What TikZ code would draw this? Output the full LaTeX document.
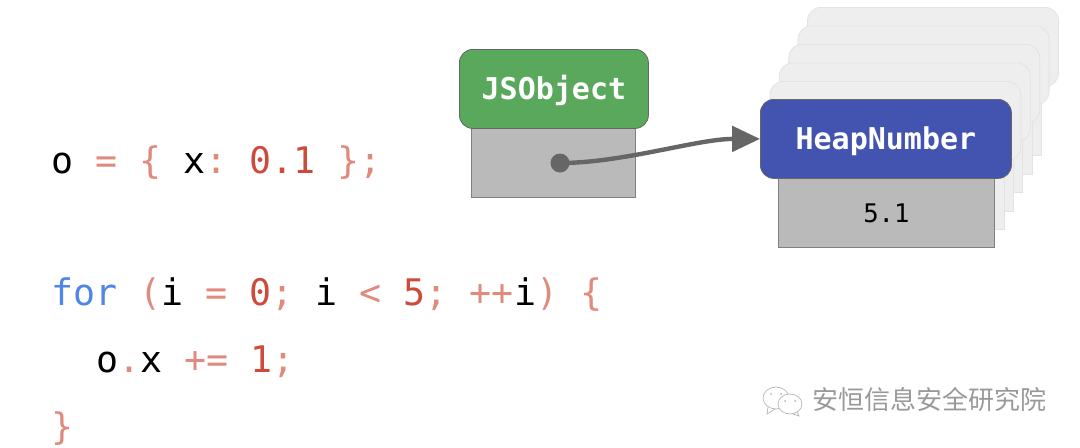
\documentclass[tikz,border=0pt]{standalone}
\usepackage{fontspec}
\setmonofont{DejaVu Sans Mono}
\newfontfamily\cjk{Noto Sans CJK SC}
\usetikzlibrary{arrows.meta}
\definecolor{kwblue}{HTML}{5086E8}
\definecolor{numred}{HTML}{CE4B3C}
\definecolor{opred}{HTML}{E08A7E}
\definecolor{bodygrey}{HTML}{BABABA}
\definecolor{ptrgrey}{HTML}{666666}
\definecolor{jsgreen}{HTML}{59A85C}
\definecolor{heapblue}{HTML}{4254B0}
\definecolor{cardfill}{HTML}{EEEEEE}
\definecolor{cardline}{HTML}{E3E3E3}
\definecolor{markgrey}{HTML}{B4B4B4}
\def\px{0.75pt}
\newcommand{\num}[1]{\textcolor{numred}{#1}}
\newcommand{\op}[1]{\textcolor{opred}{#1}}
\tikzset{
  codeline/.style = {anchor = base west, inner sep = 0pt, text = black, font = \ttfamily\fontsize{27.45pt}{30pt}\selectfont},
  header/.style = {anchor = north west, draw = ptrgrey, line width = 0.6pt, rounded corners = 10pt, inner sep = 0pt, text = white, text height = 16pt, text depth = 0pt, font = \ttfamily\bfseries\fontsize{22.5pt}{24pt}\selectfont},
  bodybox/.style = {anchor = north west, fill = bodygrey, draw = gray, line width = 0.6pt, inner sep = 0pt, font = \ttfamily\fontsize{19.2pt}{22pt}\selectfont},
  card/.style = {anchor = north west, fill = cardfill, draw = cardline, line width = 0.6pt, inner sep = 0pt},
}
\begin{document}
\begin{tikzpicture}[x = 0.75pt, y = -0.75pt]
\useasboundingbox (0, 0) rectangle (1080, 447);
% code
\node[codeline] (lineObj) at (51, 173) {o \op{= \{} x\op{:} \num{0.1} \op{\}}\op{;}};
\node[codeline] (lineFor) at (51, 305) {\textcolor{kwblue}{for} \op{(}i \op{=} \num{0}\op{;} i \op{<} \num{5}\op{;} \op{++}i\op{)} \op{\{}};
\node[codeline] (lineAdd) at (96, 372) {o\op{.}x \op{+=} \num{1}\op{;}};
\node[codeline] (lineEnd) at (51, 439) {\op{\}}};
% stacked copies
\foreach \i in {4, 3, 2, 1, 0} {
  \node[card, minimum width = 216*\px, minimum height = 69*\px] (cardBody\i) at ({787.5 + 9.4*\i}, {160 - 18.5*\i}) {};
  \node[card, rounded corners = 10pt, minimum width = 251*\px, minimum height = 79*\px] (cardHead\i) at ({769.5 + 9.4*\i}, {81 - 18.5*\i}) {};
}
% JSObject
\node[bodybox, minimum width = 164*\px, minimum height = 69*\px] (jsBody) at (471, 128) {};
\node[header, fill = jsgreen, minimum width = 189*\px, minimum height = 79*\px] (jsHead) at (459, 49) {JSObject};
% HeapNumber
\node[bodybox, minimum width = 216*\px, minimum height = 69*\px] (heapBody) at (778, 178) {5.1};
\node[header, fill = heapblue, minimum width = 251*\px, minimum height = 79*\px] (heapHead) at (760, 99) {HeapNumber};
% pointer
\node[circle, fill = ptrgrey, inner sep = 0pt, minimum size = 19*\px] (ptrDot) at (560, 163) {};
\draw[ptrgrey, line width = 3.3pt, -{Triangle[length = 21pt, width = 19pt]}] (ptrDot.center) to[out = 0, in = 180, looseness = 0.8] (heapHead.west);
% watermark
\draw[markgrey, line width = 0.5pt, fill = white] (776, 398) ellipse (13 and 11);
\draw[markgrey, line width = 0.5pt] (768, 407) -- (767, 414) -- (775, 409);
\fill[markgrey] (771, 394) circle (1) (781, 394) circle (1);
\draw[markgrey, line width = 0.5pt, fill = white] (790, 404) ellipse (12 and 10);
\draw[markgrey, line width = 0.5pt] (797, 412) -- (799, 416) -- (793, 414);
\fill[markgrey] (785, 401) circle (1) (795, 401) circle (1);
\node[anchor = west, inner sep = 0pt, text = markgrey!85!black, font = \cjk\fontsize{19.5pt}{22pt}\selectfont] (markText) at (812, 400) {安恒信息安全研究院};
\end{tikzpicture}
\end{document}
